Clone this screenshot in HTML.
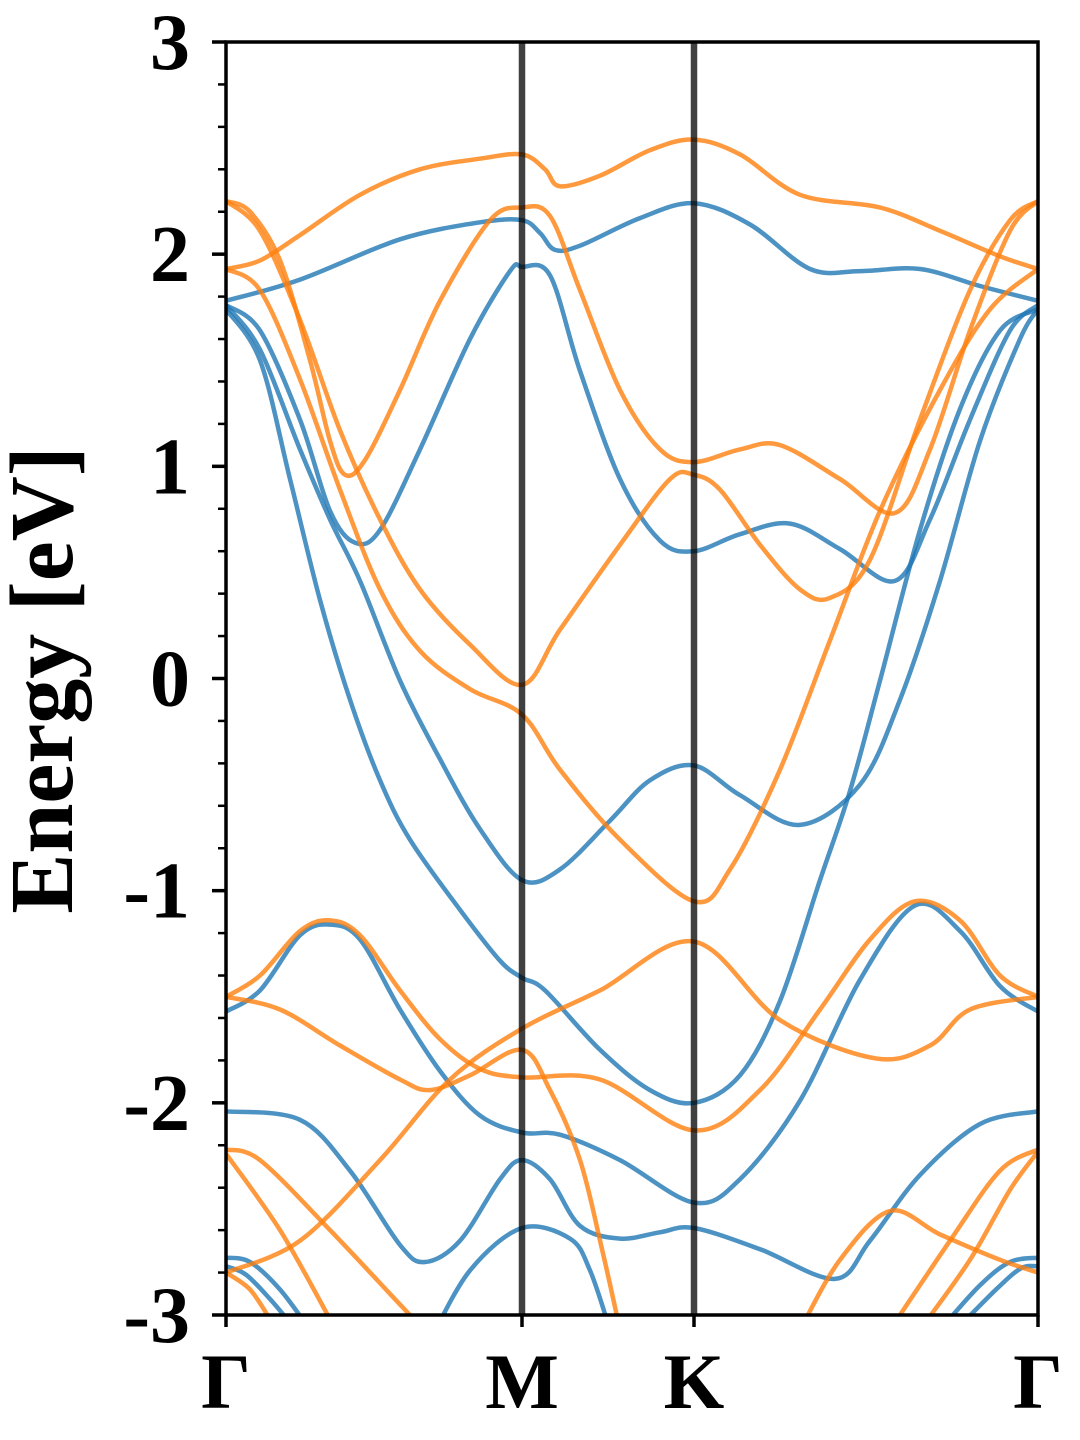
<!DOCTYPE html>
<html><head><meta charset="utf-8"><style>
html,body{margin:0;padding:0;background:#fff;}
svg{display:block;}
text{font-family:"Liberation Serif",serif;font-weight:bold;fill:#000;}
</style></head><body>
<svg id="chart" width="1080" height="1440" viewBox="0 0 1080 1440" xmlns="http://www.w3.org/2000/svg">
<defs><clipPath id="plotclip"><rect x="226" y="42" width="812" height="1273"/></clipPath></defs>
<g id="bands" clip-path="url(#plotclip)"></g>
<g id="axes"></g>
</svg>
<script>
// high-symmetry points (path length units)
const kLabels = ["Γ","M","K","Γ"];
const kTicks = [0, 296, 468, 812];
const yTicks = [3,2,1,0,-1,-2,-3];
const yTickLabels = ["3","2","1","0","-1","-2","-3"];

// spin-up (blue) bands: k and energy arrays
const blueK = [
 [0,74,174,254,296,314,329,354,414,468,524,584,634,694,754,812],
 [0,34,74,104,129,154,194,244,284,296,324,354,394,434,468,514,564,614,669,704,744,784,812],
 [0,34,74,104,134,174,214,254,296,334,384,424,468,514,574,634,674,714,754,794,812],
 [0,34,64,94,124,154,184,234,274,296,319,374,424,468,514,554,594,624,654,694,734,774,812],
 [0,34,74,104,134,174,214,254,296,334,394,468,514,574,634,689,734,774,812],
 [0,74,124,174,199,234,274,296,324,354,394,434,468,534,609,644,694,754,812],
 [0,24,54,84],
 [0,20,45,70],
 [714,754,784,812],
 [730,770,795,812],
 [204,244,296,344,364,384]
];
const blueE = [
 [1.78,1.88,2.07,2.15,2.16,2.10,2.02,2.04,2.17,2.24,2.14,1.93,1.92,1.93,1.85,1.78],
 [1.76,1.64,1.22,0.79,0.64,0.70,1.08,1.60,1.92,1.94,1.90,1.45,0.94,0.65,0.60,0.68,0.73,0.61,0.46,0.75,1.22,1.64,1.76],
 [1.76,1.55,1.08,0.75,0.46,-0.01,-0.38,-0.71,-0.95,-0.90,-0.67,-0.48,-0.41,-0.55,-0.69,-0.50,-0.10,0.46,1.12,1.60,1.74],
 [1.74,1.50,0.94,0.37,-0.10,-0.48,-0.76,-1.09,-1.33,-1.41,-1.47,-1.75,-1.94,-2.00,-1.87,-1.52,-0.95,-0.53,-0.01,0.70,1.27,1.64,1.74],
 [-1.57,-1.47,-1.21,-1.16,-1.23,-1.56,-1.85,-2.06,-2.14,-2.15,-2.27,-2.47,-2.36,-1.99,-1.42,-1.07,-1.19,-1.45,-1.57],
 [-2.04,-2.08,-2.32,-2.67,-2.75,-2.65,-2.36,-2.27,-2.36,-2.58,-2.64,-2.61,-2.59,-2.69,-2.83,-2.65,-2.34,-2.10,-2.04],
 [-2.73,-2.75,-2.88,-3.07],
 [-2.77,-2.81,-2.93,-3.07],
 [-3.07,-2.86,-2.75,-2.73],
 [-3.07,-2.88,-2.78,-2.77],
 [-3.12,-2.79,-2.59,-2.64,-2.79,-3.07]
];
// spin-down (orange) bands
const orangeK = [
 [0,34,74,134,194,254,296,319,334,374,424,468,514,574,654,714,774,812],
 [0,24,54,84,104,119,139,174,214,264,296,324,354,394,434,468,514,554,614,669,704,744,784,812],
 [0,34,74,114,154,194,244,296,334,394,444,468,494,534,574,604,644,694,744,784,812],
 [0,34,74,114,154,194,244,296,334,394,468,504,554,604,654,714,764,812],
 [0,34,74,104,134,174,214,254,296,374,468,534,594,644,689,734,774,812],
 [0,54,114,174,204,244,296,324,354,376,394],
 [0,74,154,224,296,374,468,554,649,704,744,812],
 [0,34,104,184,200],
 [0,54,104],
 [0,24,44],
 [574,614,664,714,774,812],
 [664,724,774,812],
 [694,744,784,812]
];
const orangeE = [
 [1.93,1.97,2.09,2.28,2.40,2.45,2.47,2.40,2.32,2.37,2.49,2.54,2.47,2.28,2.22,2.11,1.99,1.93],
 [2.25,2.20,1.97,1.50,1.12,0.96,1.03,1.36,1.78,2.16,2.22,2.18,1.83,1.36,1.08,1.02,1.08,1.10,0.94,0.78,1.08,1.64,2.11,2.25],
 [2.25,2.11,1.69,1.17,0.75,0.42,0.16,-0.03,0.23,0.63,0.94,0.96,0.89,0.63,0.42,0.38,0.56,1.22,1.83,2.16,2.25],
 [1.93,1.83,1.41,0.89,0.42,0.13,-0.05,-0.17,-0.43,-0.76,-1.05,-0.90,-0.43,0.18,0.79,1.36,1.74,1.93],
 [-1.50,-1.40,-1.19,-1.14,-1.21,-1.47,-1.70,-1.84,-1.88,-1.89,-2.13,-1.94,-1.56,-1.23,-1.05,-1.14,-1.40,-1.50],
 [-1.50,-1.56,-1.73,-1.89,-1.94,-1.87,-1.75,-1.94,-2.27,-2.69,-3.07],
 [-2.80,-2.65,-2.27,-1.89,-1.65,-1.47,-1.24,-1.61,-1.79,-1.73,-1.56,-1.50],
 [-2.22,-2.27,-2.60,-3.00,-3.07],
 [-2.24,-2.60,-3.02],
 [-2.80,-2.88,-3.02],
 [-3.07,-2.74,-2.51,-2.62,-2.74,-2.80],
 [-3.07,-2.65,-2.32,-2.22],
 [-3.07,-2.74,-2.41,-2.23]
];

const X0=226, X1=1038, Y0=42, Y1=1315, EMIN=-3, EMAX=3, KMAX=812;
const xS = k => X0 + (k/KMAX)*(X1-X0);
const yS = e => Y1 - (e-EMIN)/(EMAX-EMIN)*(Y1-Y0);
const NS="http://www.w3.org/2000/svg";
function mk(tag, attrs, parent){const el=document.createElementNS(NS,tag);for(const a in attrs)el.setAttribute(a,attrs[a]);parent.appendChild(el);return el;}
function smoothPath(ks, es){
  const p = ks.map((k,i)=>[xS(k), yS(es[i])]);
  let d = "M"+p[0][0].toFixed(1)+","+p[0][1].toFixed(1);
  for(let i=0;i<p.length-1;i++){
    const p0=p[Math.max(0,i-1)], p1=p[i], p2=p[i+1], p3=p[Math.min(p.length-1,i+2)];
    const c1=[p1[0]+(p2[0]-p0[0])/6, p1[1]+(p2[1]-p0[1])/6];
    const c2=[p2[0]-(p3[0]-p1[0])/6, p2[1]-(p3[1]-p1[1])/6];
    d+=" C"+c1[0].toFixed(1)+","+c1[1].toFixed(1)+" "+c2[0].toFixed(1)+","+c2[1].toFixed(1)+" "+p2[0].toFixed(1)+","+p2[1].toFixed(1);
  }
  return d;
}
const bands=document.getElementById('bands');
blueK.forEach((ks,i)=>{
  const el=mk('path',{d:smoothPath(ks,blueE[i]),fill:'none',stroke:'#1f77b4','stroke-opacity':'0.8','stroke-width':'4.5'},bands);
  
  
});
orangeK.forEach((ks,i)=>{
  const el=mk('path',{d:smoothPath(ks,orangeE[i]),fill:'none',stroke:'#ff7f0e','stroke-opacity':'0.8','stroke-width':'4.5'},bands);
  
  
});
const axes=document.getElementById('axes');
kTicks.slice(1,3).forEach((k,i)=>{
  const el=mk('line',{x1:xS(k),x2:xS(k),y1:Y0,y2:Y1,stroke:'#000','stroke-opacity':'0.75','stroke-width':'6.5'},axes);
  
  
});
const fr=mk('rect',{x:X0,y:Y0,width:X1-X0,height:Y1-Y0,fill:'none',stroke:'#000','stroke-width':'3.5'},axes);


for(let e=-3;e<=3.001;e+=0.2){
  const major=Math.abs(e-Math.round(e))<1e-6;
  const t=mk('line',{x1:X0-(major?14:8),x2:X0,y1:yS(e),y2:yS(e),stroke:'#000','stroke-width':major?3.5:2.5},axes);
  
  
}
yTicks.forEach((v,i)=>{
  const t=mk('text',{x:190,y:yS(v)+27,'text-anchor':'end','font-size':'80'},axes);
  t.textContent=yTickLabels[i];
  
  
});
kTicks.forEach((k,i)=>{
  const tl=mk('line',{x1:xS(k),x2:xS(k),y1:Y1,y2:Y1+12,stroke:'#000','stroke-width':'3.5'},axes);
  
  
  const t=mk('text',{x:xS(k),y:1408,'text-anchor':'middle','font-size':'78'},axes);
  t.textContent=kLabels[i];
  
  
});
const yl=mk('text',{x:0,y:0,'text-anchor':'middle','font-size':'90',transform:'translate(72,680) rotate(-90)'},axes);
yl.textContent='Energy [eV]';


</script>
</body></html>
